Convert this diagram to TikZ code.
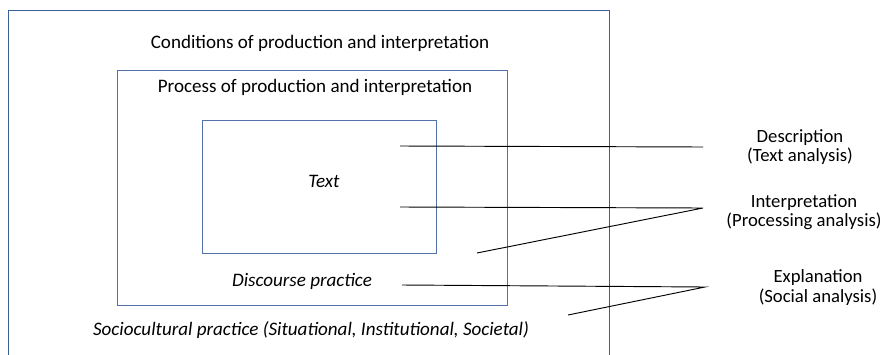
\documentclass[tikz,border=0pt]{standalone}
\usepackage{fontspec}
\setmainfont{Carlito}
\usepackage{tikz}

\definecolor{boxblue}{HTML}{5272A8}
\definecolor{outerblue}{HTML}{3C5F9C}

\tikzset{
  frame/.style={draw=boxblue, line width=0.7pt, inner sep=0pt},
  level/.style={align=center, font=\fontsize{14}{14.5}\selectfont},
  conn/.style={line width=0.7pt, black}
}

\begin{document}
\begin{tikzpicture}[x=0.75pt, y=-0.75pt, font=\fontsize{14.3}{16}\selectfont]
  \clip (0,0) rectangle (883,354);

  % the three nested boxes
  \node[frame, draw=outerblue, minimum width=450.75pt, minimum height=285pt] (conditionsbox) at (308.5,200) {};
  \node[frame, minimum width=292.5pt, minimum height=176.25pt] (processbox) at (312,188) {};
  \node[frame, minimum width=175.5pt, minimum height=99.75pt] (textbox) at (319,186.5) {};

  \node (conditions) at (320,43) {Conditions of production and interpretation};
  \node (process) at (315,87) {Process of production and interpretation};
  \node (text) at (324,181) {\itshape Text};
  \node (discourse) at (302,281) {\itshape Discourse practice};
  \node (sociocultural) at (311,330) {\itshape Sociocultural practice (Situational, Institutional, Societal)};

  % levels of analysis
  \node[level] (description) at (800,147) {Description\\(Text analysis)};
  \node[level] (interpretation) at (804,212) {Interpretation\\(Processing analysis)};
  \node[level] (explanation) at (818,287.5) {Explanation\\(Social analysis)};

  \coordinate (desc-a) at (400,146);
  \coordinate (desc-b) at (703,147);
  \coordinate (interp-a) at (400,207);
  \coordinate (interp-b) at (477,253);
  \coordinate (interp-c) at (703,208);
  \coordinate (expl-a) at (402,285);
  \coordinate (expl-b) at (568,315);
  \coordinate (expl-c) at (705,287);

  \draw[conn] (desc-a) -- (desc-b);
  \draw[conn] (interp-a) -- (interp-c) -- (interp-b);
  \draw[conn] (expl-a) -- (expl-c) -- (expl-b);
\end{tikzpicture}
\end{document}
